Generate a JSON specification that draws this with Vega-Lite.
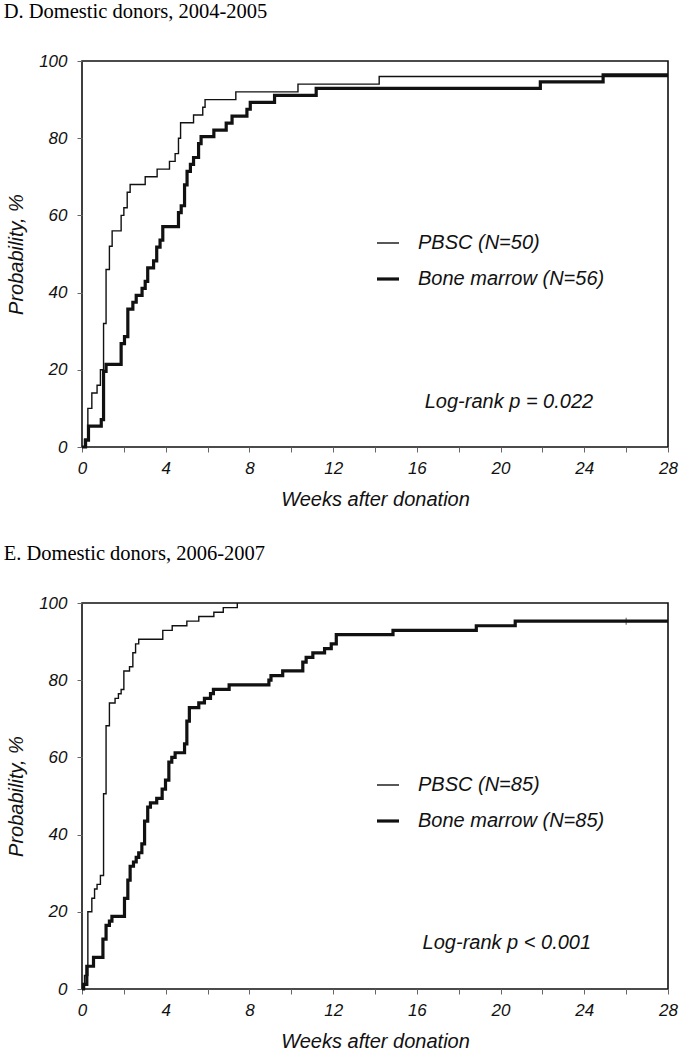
{
  "$schema": "https://vega.github.io/schema/vega-lite/v6.json",
  "padding": {"left": 2, "top": 0, "right": 0, "bottom": 0},
  "background": "white",
  "spacing": 32,
  "datasets": {
    "d": [
      {"g": "PBSC (N=50)", "w": 0, "p": 0},
      {"g": "PBSC (N=50)", "w": 0.12, "p": 2},
      {"g": "PBSC (N=50)", "w": 0.28, "p": 10},
      {"g": "PBSC (N=50)", "w": 0.47, "p": 14},
      {"g": "PBSC (N=50)", "w": 0.72, "p": 16},
      {"g": "PBSC (N=50)", "w": 0.88, "p": 20},
      {"g": "PBSC (N=50)", "w": 1.03, "p": 32},
      {"g": "PBSC (N=50)", "w": 1.15, "p": 46},
      {"g": "PBSC (N=50)", "w": 1.31, "p": 52},
      {"g": "PBSC (N=50)", "w": 1.44, "p": 56},
      {"g": "PBSC (N=50)", "w": 1.87, "p": 60},
      {"g": "PBSC (N=50)", "w": 2.0, "p": 62},
      {"g": "PBSC (N=50)", "w": 2.16, "p": 66},
      {"g": "PBSC (N=50)", "w": 2.3, "p": 68},
      {"g": "PBSC (N=50)", "w": 3.02, "p": 70},
      {"g": "PBSC (N=50)", "w": 3.59, "p": 72},
      {"g": "PBSC (N=50)", "w": 4.18, "p": 74},
      {"g": "PBSC (N=50)", "w": 4.45, "p": 76},
      {"g": "PBSC (N=50)", "w": 4.61, "p": 80},
      {"g": "PBSC (N=50)", "w": 4.71, "p": 84},
      {"g": "PBSC (N=50)", "w": 5.33, "p": 86},
      {"g": "PBSC (N=50)", "w": 5.77, "p": 88},
      {"g": "PBSC (N=50)", "w": 5.88, "p": 90},
      {"g": "PBSC (N=50)", "w": 7.35, "p": 92},
      {"g": "PBSC (N=50)", "w": 10.32, "p": 94},
      {"g": "PBSC (N=50)", "w": 14.2, "p": 96},
      {"g": "PBSC (N=50)", "w": 28, "p": 96},
      {"g": "Bone marrow (N=56)", "w": 0, "p": 0},
      {"g": "Bone marrow (N=56)", "w": 0.17, "p": 1.8},
      {"g": "Bone marrow (N=56)", "w": 0.31, "p": 5.4},
      {"g": "Bone marrow (N=56)", "w": 0.92, "p": 7.1},
      {"g": "Bone marrow (N=56)", "w": 1.03, "p": 19.6},
      {"g": "Bone marrow (N=56)", "w": 1.15, "p": 21.4},
      {"g": "Bone marrow (N=56)", "w": 1.87, "p": 26.8},
      {"g": "Bone marrow (N=56)", "w": 2.03, "p": 28.6},
      {"g": "Bone marrow (N=56)", "w": 2.19, "p": 35.7},
      {"g": "Bone marrow (N=56)", "w": 2.43, "p": 37.5},
      {"g": "Bone marrow (N=56)", "w": 2.59, "p": 39.3},
      {"g": "Bone marrow (N=56)", "w": 2.87, "p": 41.1},
      {"g": "Bone marrow (N=56)", "w": 3.02, "p": 42.9},
      {"g": "Bone marrow (N=56)", "w": 3.14, "p": 46.4},
      {"g": "Bone marrow (N=56)", "w": 3.42, "p": 48.2},
      {"g": "Bone marrow (N=56)", "w": 3.57, "p": 51.8},
      {"g": "Bone marrow (N=56)", "w": 3.73, "p": 53.6},
      {"g": "Bone marrow (N=56)", "w": 3.86, "p": 57.1},
      {"g": "Bone marrow (N=56)", "w": 4.61, "p": 60.7},
      {"g": "Bone marrow (N=56)", "w": 4.74, "p": 62.5},
      {"g": "Bone marrow (N=56)", "w": 4.9, "p": 67.9},
      {"g": "Bone marrow (N=56)", "w": 5.02, "p": 71.4},
      {"g": "Bone marrow (N=56)", "w": 5.18, "p": 73.2},
      {"g": "Bone marrow (N=56)", "w": 5.33, "p": 75.0},
      {"g": "Bone marrow (N=56)", "w": 5.57, "p": 78.6},
      {"g": "Bone marrow (N=56)", "w": 5.69, "p": 80.4},
      {"g": "Bone marrow (N=56)", "w": 6.3, "p": 82.1},
      {"g": "Bone marrow (N=56)", "w": 6.89, "p": 83.9},
      {"g": "Bone marrow (N=56)", "w": 7.17, "p": 85.7},
      {"g": "Bone marrow (N=56)", "w": 7.88, "p": 87.5},
      {"g": "Bone marrow (N=56)", "w": 8.04, "p": 89.3},
      {"g": "Bone marrow (N=56)", "w": 9.2, "p": 91.1},
      {"g": "Bone marrow (N=56)", "w": 11.19, "p": 92.9},
      {"g": "Bone marrow (N=56)", "w": 21.9, "p": 94.6},
      {"g": "Bone marrow (N=56)", "w": 24.9, "p": 96.4},
      {"g": "Bone marrow (N=56)", "w": 28, "p": 96.4}
    ],
    "e": [
      {"g": "PBSC (N=85)", "w": 0, "p": 0},
      {"g": "PBSC (N=85)", "w": 0.12, "p": 3.5},
      {"g": "PBSC (N=85)", "w": 0.28, "p": 20},
      {"g": "PBSC (N=85)", "w": 0.47, "p": 23.5},
      {"g": "PBSC (N=85)", "w": 0.6, "p": 25.9},
      {"g": "PBSC (N=85)", "w": 0.72, "p": 27.1},
      {"g": "PBSC (N=85)", "w": 0.88, "p": 29.4},
      {"g": "PBSC (N=85)", "w": 1.03, "p": 50.6},
      {"g": "PBSC (N=85)", "w": 1.15, "p": 68.2},
      {"g": "PBSC (N=85)", "w": 1.31, "p": 74.1},
      {"g": "PBSC (N=85)", "w": 1.58, "p": 75.3},
      {"g": "PBSC (N=85)", "w": 1.74, "p": 76.5},
      {"g": "PBSC (N=85)", "w": 1.87, "p": 77.6},
      {"g": "PBSC (N=85)", "w": 2.0, "p": 82.4},
      {"g": "PBSC (N=85)", "w": 2.27, "p": 83.5},
      {"g": "PBSC (N=85)", "w": 2.43, "p": 87.1},
      {"g": "PBSC (N=85)", "w": 2.56, "p": 89.4},
      {"g": "PBSC (N=85)", "w": 2.71, "p": 90.6},
      {"g": "PBSC (N=85)", "w": 3.86, "p": 92.9},
      {"g": "PBSC (N=85)", "w": 4.31, "p": 94.1},
      {"g": "PBSC (N=85)", "w": 5.01, "p": 95.3},
      {"g": "PBSC (N=85)", "w": 5.58, "p": 96.5},
      {"g": "PBSC (N=85)", "w": 6.3, "p": 97.6},
      {"g": "PBSC (N=85)", "w": 6.75, "p": 98.8},
      {"g": "PBSC (N=85)", "w": 7.42, "p": 100},
      {"g": "Bone marrow (N=85)", "w": 0, "p": 0},
      {"g": "Bone marrow (N=85)", "w": 0.07, "p": 1.2},
      {"g": "Bone marrow (N=85)", "w": 0.23, "p": 5.9},
      {"g": "Bone marrow (N=85)", "w": 0.55, "p": 8.2},
      {"g": "Bone marrow (N=85)", "w": 1.0, "p": 12.9},
      {"g": "Bone marrow (N=85)", "w": 1.15, "p": 16.5},
      {"g": "Bone marrow (N=85)", "w": 1.31, "p": 17.6},
      {"g": "Bone marrow (N=85)", "w": 1.43, "p": 18.8},
      {"g": "Bone marrow (N=85)", "w": 2.03, "p": 23.5},
      {"g": "Bone marrow (N=85)", "w": 2.19, "p": 28.2},
      {"g": "Bone marrow (N=85)", "w": 2.3, "p": 31.8},
      {"g": "Bone marrow (N=85)", "w": 2.46, "p": 32.9},
      {"g": "Bone marrow (N=85)", "w": 2.59, "p": 34.1},
      {"g": "Bone marrow (N=85)", "w": 2.71, "p": 35.3},
      {"g": "Bone marrow (N=85)", "w": 2.86, "p": 37.6},
      {"g": "Bone marrow (N=85)", "w": 2.99, "p": 43.5},
      {"g": "Bone marrow (N=85)", "w": 3.14, "p": 47.1},
      {"g": "Bone marrow (N=85)", "w": 3.27, "p": 48.2},
      {"g": "Bone marrow (N=85)", "w": 3.57, "p": 49.4},
      {"g": "Bone marrow (N=85)", "w": 3.83, "p": 51.8},
      {"g": "Bone marrow (N=85)", "w": 3.99, "p": 54.1},
      {"g": "Bone marrow (N=85)", "w": 4.15, "p": 58.8},
      {"g": "Bone marrow (N=85)", "w": 4.29, "p": 60.0},
      {"g": "Bone marrow (N=85)", "w": 4.45, "p": 61.2},
      {"g": "Bone marrow (N=85)", "w": 4.9, "p": 63.5},
      {"g": "Bone marrow (N=85)", "w": 5.01, "p": 69.4},
      {"g": "Bone marrow (N=85)", "w": 5.13, "p": 72.9},
      {"g": "Bone marrow (N=85)", "w": 5.58, "p": 74.1},
      {"g": "Bone marrow (N=85)", "w": 5.85, "p": 75.3},
      {"g": "Bone marrow (N=85)", "w": 6.14, "p": 76.5},
      {"g": "Bone marrow (N=85)", "w": 6.28, "p": 77.6},
      {"g": "Bone marrow (N=85)", "w": 7.03, "p": 78.8},
      {"g": "Bone marrow (N=85)", "w": 8.93, "p": 80.0},
      {"g": "Bone marrow (N=85)", "w": 9.03, "p": 81.2},
      {"g": "Bone marrow (N=85)", "w": 9.59, "p": 82.4},
      {"g": "Bone marrow (N=85)", "w": 10.55, "p": 84.7},
      {"g": "Bone marrow (N=85)", "w": 10.71, "p": 85.9},
      {"g": "Bone marrow (N=85)", "w": 11.03, "p": 87.1},
      {"g": "Bone marrow (N=85)", "w": 11.59, "p": 88.2},
      {"g": "Bone marrow (N=85)", "w": 11.91, "p": 89.4},
      {"g": "Bone marrow (N=85)", "w": 12.15, "p": 91.8},
      {"g": "Bone marrow (N=85)", "w": 14.86, "p": 92.9},
      {"g": "Bone marrow (N=85)", "w": 18.84, "p": 94.1},
      {"g": "Bone marrow (N=85)", "w": 20.7, "p": 95.3},
      {"g": "Bone marrow (N=85)", "w": 28, "p": 95.3}
    ],
    "ecensor": [
      {"g": "Bone marrow (N=85)", "w": 26, "p": 95.3}
    ]
  },
  "vconcat": [
    {
      "title": {"text": "D. Domestic donors, 2004-2005"},
      "width": 586,
      "height": 386,
      "layer": [
        {
          "data": {"name": "d"},
          "mark": {"type": "line", "interpolate": "step-after", "color": "#111", "strokeCap": "butt"},
          "encoding": {
            "x": {"field": "w", "type": "quantitative", "scale": {"domain": [0, 28], "nice": false},
              "axis": {"title": "Weeks after donation", "values": [0,1,2,3,4,5,6,7,8,9,10,11,12,13,14,15,16,17,18,19,20,21,22,23,24,25,26,27,28], "labelExpr": "datum.value % 4 == 0 ? datum.label : ''"}},
            "y": {"field": "p", "type": "quantitative", "scale": {"domain": [0, 100], "nice": false},
              "axis": {"title": "Probability, %", "values": [0,5,10,15,20,25,30,35,40,45,50,55,60,65,70,75,80,85,90,95,100], "labelExpr": "datum.value % 20 == 0 ? datum.label : ''"}},
            "detail": {"field": "g"},
            "strokeWidth": {"field": "g", "type": "nominal",
              "scale": {"domain": ["PBSC (N=50)", "Bone marrow (N=56)"], "range": [1.4, 3.2]},
              "legend": {"orient": "none", "legendX": 293, "legendY": 170}}
          }
        },
        {
          "data": {"values": [{}]},
          "mark": {"type": "text", "font": "Liberation Sans", "fontStyle": "italic", "fontSize": 20, "color": "#111", "align": "center", "baseline": "middle"},
          "encoding": {
            "x": {"datum": 20.4, "type": "quantitative"},
            "y": {"datum": 11.7, "type": "quantitative"},
            "text": {"value": "Log-rank p = 0.022"}
          }
        }
      ]
    },
    {
      "title": {"text": "E. Domestic donors, 2006-2007"},
      "width": 586,
      "height": 386,
      "layer": [
        {
          "data": {"name": "e"},
          "mark": {"type": "line", "interpolate": "step-after", "color": "#111", "strokeCap": "butt"},
          "encoding": {
            "x": {"field": "w", "type": "quantitative", "scale": {"domain": [0, 28], "nice": false},
              "axis": {"title": "Weeks after donation", "values": [0,1,2,3,4,5,6,7,8,9,10,11,12,13,14,15,16,17,18,19,20,21,22,23,24,25,26,27,28], "labelExpr": "datum.value % 4 == 0 ? datum.label : ''"}},
            "y": {"field": "p", "type": "quantitative", "scale": {"domain": [0, 100], "nice": false},
              "axis": {"title": "Probability, %", "values": [0,5,10,15,20,25,30,35,40,45,50,55,60,65,70,75,80,85,90,95,100], "labelExpr": "datum.value % 20 == 0 ? datum.label : ''"}},
            "detail": {"field": "g"},
            "strokeWidth": {"field": "g", "type": "nominal",
              "scale": {"domain": ["PBSC (N=85)", "Bone marrow (N=85)"], "range": [1.4, 3.2]},
              "legend": {"orient": "none", "legendX": 293, "legendY": 170}}
          }
        },
        {
          "data": {"name": "ecensor"},
          "mark": {"type": "tick", "orient": "vertical", "color": "#111", "size": 7, "thickness": 1},
          "encoding": {
            "x": {"field": "w", "type": "quantitative"},
            "y": {"field": "p", "type": "quantitative"}
          }
        },
        {
          "data": {"values": [{}]},
          "mark": {"type": "text", "font": "Liberation Sans", "fontStyle": "italic", "fontSize": 20, "color": "#111", "align": "center", "baseline": "middle"},
          "encoding": {
            "x": {"datum": 20.3, "type": "quantitative"},
            "y": {"datum": 11.8, "type": "quantitative"},
            "text": {"value": "Log-rank p < 0.001"}
          }
        }
      ],
      "resolve": {"scale": {"strokeWidth": "independent"}}
    }
  ],
  "resolve": {"scale": {"strokeWidth": "independent"}, "legend": {"strokeWidth": "independent"}},
  "config": {
    "view": {"stroke": "#111", "strokeWidth": 1.6},
    "title": {"font": "Liberation Serif", "fontSize": 20.5, "fontWeight": "normal", "color": "#000", "anchor": "start", "frame": "bounds", "offset": 30, "dx": -3},
    "axis": {
      "grid": false, "domain": false, "labelFlush": false, "labelOverlap": false,
      "labelFont": "Liberation Sans", "labelFontStyle": "italic", "labelFontSize": 17, "labelColor": "#111",
      "titleFont": "Liberation Sans", "titleFontStyle": "italic", "titleFontWeight": "normal", "titleFontSize": 20, "titleColor": "#111",
      "tickColor": "#666", "tickSize": 5, "tickWidth": 1
    },
    "axisX": {"labelPadding": 8, "titlePadding": 13},
    "axisY": {"labelPadding": 10, "titlePadding": 12},
    "legend": {
      "title": null, "symbolType": "stroke", "symbolSize": 484, "symbolStrokeColor": "#111",
      "labelFont": "Liberation Sans", "labelFontStyle": "italic", "labelFontSize": 20, "labelColor": "#111", "labelLimit": 0,
      "labelOffset": 17, "rowPadding": 13, "padding": 0
    }
  }
}
